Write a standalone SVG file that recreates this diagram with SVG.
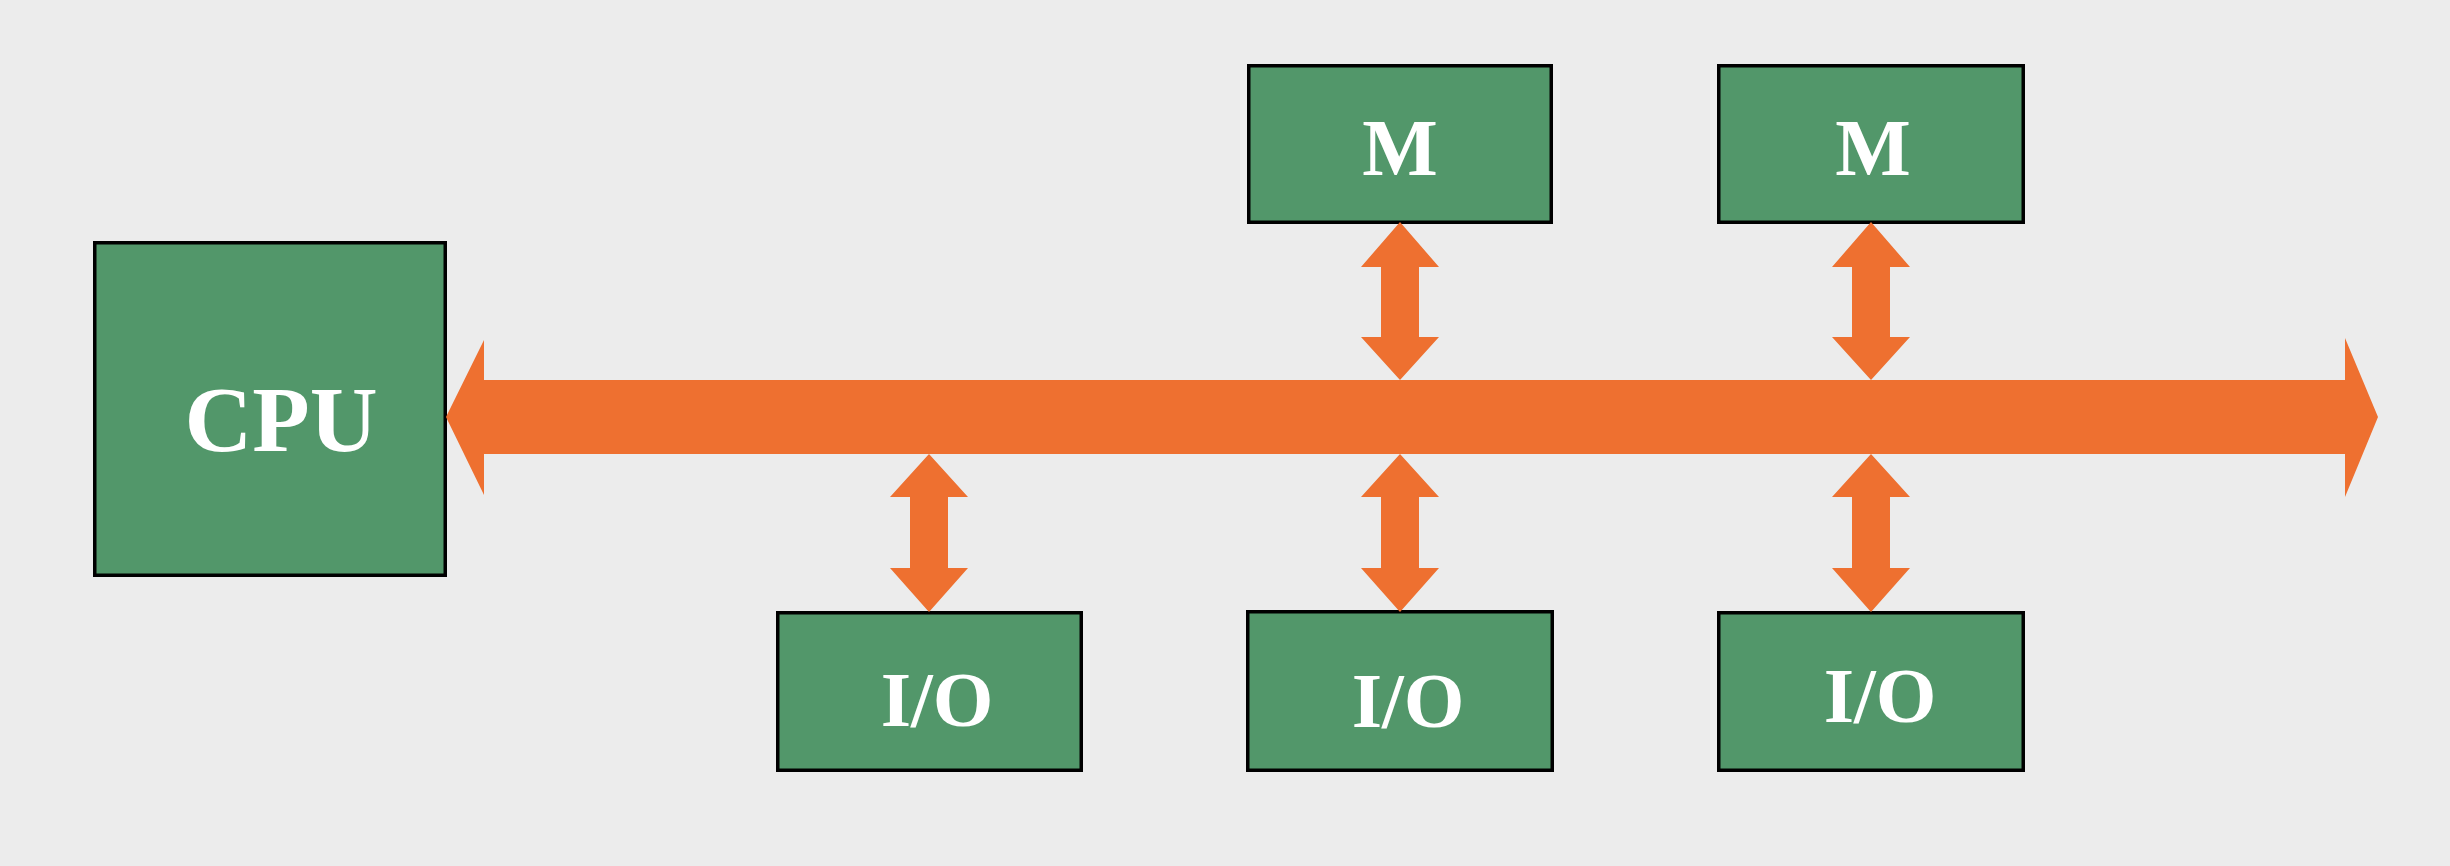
<svg xmlns="http://www.w3.org/2000/svg" width="2450" height="866" viewBox="0 0 2450 866">
<style>
.box{fill:#52976A;stroke:#000;stroke-width:3.5}
.lbl{font-family:"Liberation Serif","Times New Roman",serif;font-weight:bold;fill:#fff;text-anchor:middle}
.arr{fill:#EE7030}
</style>
<defs>
<polygon id="up" points="0,0 39,45 19,45 19,115 39,115 0,158 -39,115 -19,115 -19,45 -39,45"/>
<polygon id="dn" points="0,0 39,43 19,43 19,114 39,114 0,158 -39,114 -19,114 -19,43 -39,43"/>
</defs>
<rect width="2450" height="866" fill="#ECECEC"/>
<g id="cpu"><rect class="box" x="94.75" y="242.75" width="350.5" height="332.5"/><text class="lbl" x="281" y="451" font-size="94">CPU</text></g>
<g id="m1"><rect class="box" x="1248.75" y="65.75" width="302.5" height="156.5"/><text class="lbl" x="1400" y="175" font-size="80">M</text></g>
<g id="m2"><rect class="box" x="1718.75" y="65.75" width="304.5" height="156.5"/><text class="lbl" x="1873" y="175" font-size="80">M</text></g>
<g id="io1"><rect class="box" x="777.75" y="612.75" width="303.5" height="157.5"/><text class="lbl" x="937" y="726" font-size="78">I/O</text></g>
<g id="io2"><rect class="box" x="1247.75" y="611.75" width="304.5" height="158.5"/><text class="lbl" x="1408" y="727" font-size="78">I/O</text></g>
<g id="io3"><rect class="box" x="1718.75" y="612.75" width="304.5" height="157.5"/><text class="lbl" x="1880" y="722" font-size="78">I/O</text></g>
<g id="connectors" class="arr">
<polygon points="446,417 484,340 484,380 2345,380 2345,338 2378,417 2345,497 2345,454 484,454 484,495"/>
<use href="#up" x="1400" y="222"/>
<use href="#up" x="1871" y="222"/>
<use href="#dn" x="929" y="454"/>
<use href="#dn" x="1400" y="454"/>
<use href="#dn" x="1871" y="454"/>
</g>
</svg>
